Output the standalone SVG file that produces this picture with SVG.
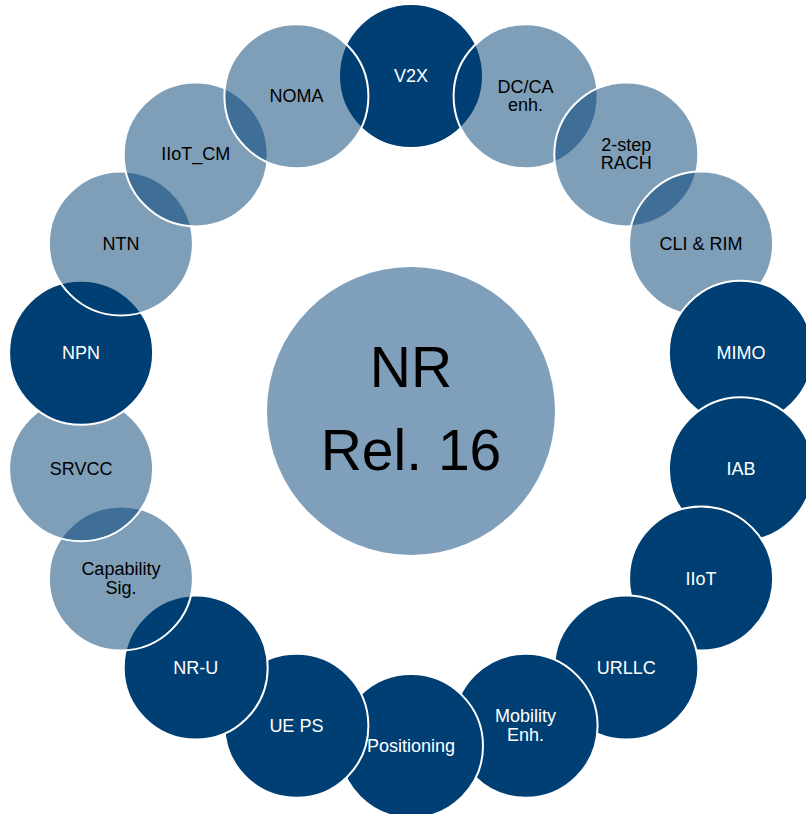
<svg xmlns="http://www.w3.org/2000/svg" width="806" height="814" viewBox="0 0 806 814">
  <style>
    .dark { fill: #003f74; stroke: #ffffff; stroke-width: 2; }
    .light { fill: #003f74; fill-opacity: 0.5; stroke: #ffffff; stroke-width: 2; }
    .hub { fill: #7f9fba; }
    text { font-family: "Liberation Sans", Arial, sans-serif; font-size: 18px; text-anchor: middle; }
    .on-dark { fill: #ffffff; }
    .on-light { fill: #000000; }
    .hub-label { font-size: 57px; fill: #000000; }
  </style>
  <rect width="806" height="814" fill="#ffffff"/>

  <!-- central hub -->
  <g id="hub">
    <circle class="hub" cx="411" cy="411" r="144"/>
    <text class="hub-label" x="411" y="387">NR</text>
    <text class="hub-label" x="411" y="470">Rel. 16</text>
  </g>

  <!-- ring of features, drawn clockwise from the top so each overlaps the previous -->
  <g id="v2x">
    <circle class="dark" cx="411" cy="76" r="72"/>
    <text class="on-dark" x="411" y="82">V2X</text>
  </g>
  <g id="dcca">
    <circle class="light" cx="525.6" cy="96.2" r="72"/>
    <text class="on-light" x="525.6" y="92.5">DC/CA</text>
    <text class="on-light" x="525.6" y="111.2">enh.</text>
  </g>
  <g id="rach">
    <circle class="light" cx="626.3" cy="154.4" r="72"/>
    <text class="on-light" x="626.3" y="150.7">2-step</text>
    <text class="on-light" x="626.3" y="169.4">RACH</text>
  </g>
  <g id="cli-rim">
    <circle class="light" cx="701.1" cy="243.5" r="72"/>
    <text class="on-light" x="701.1" y="249.5">CLI &amp; RIM</text>
  </g>
  <g id="mimo">
    <circle class="dark" cx="740.9" cy="352.8" r="72"/>
    <text class="on-dark" x="740.9" y="358.8">MIMO</text>
  </g>
  <g id="iab">
    <circle class="dark" cx="740.9" cy="469.2" r="72"/>
    <text class="on-dark" x="740.9" y="475.2">IAB</text>
  </g>
  <g id="iiot">
    <circle class="dark" cx="701.1" cy="578.5" r="72"/>
    <text class="on-dark" x="701.1" y="584.5">IIoT</text>
  </g>
  <g id="urllc">
    <circle class="dark" cx="626.3" cy="667.6" r="72"/>
    <text class="on-dark" x="626.3" y="673.6">URLLC</text>
  </g>
  <g id="mobility">
    <circle class="dark" cx="525.6" cy="725.8" r="72"/>
    <text class="on-dark" x="525.6" y="722.1">Mobility</text>
    <text class="on-dark" x="525.6" y="740.8">Enh.</text>
  </g>
  <g id="positioning">
    <circle class="dark" cx="411" cy="746" r="72"/>
  </g>
  <g id="ue-ps">
    <circle class="dark" cx="296.4" cy="725.8" r="72"/>
    <text class="on-dark" x="296.4" y="731.8">UE PS</text>
  </g>
  <g id="nr-u">
    <circle class="dark" cx="195.7" cy="667.6" r="72"/>
    <text class="on-dark" x="195.7" y="673.6">NR-U</text>
  </g>
  <g id="capability">
    <circle class="light" cx="120.9" cy="578.5" r="72"/>
    <text class="on-light" x="120.9" y="574.8">Capability</text>
    <text class="on-light" x="120.9" y="593.5">Sig.</text>
  </g>
  <g id="srvcc">
    <circle class="light" cx="81.1" cy="469.2" r="72"/>
    <text class="on-light" x="81.1" y="475.2">SRVCC</text>
  </g>
  <g id="npn">
    <circle class="dark" cx="81.1" cy="352.8" r="72"/>
    <text class="on-dark" x="81.1" y="358.8">NPN</text>
  </g>
  <g id="ntn">
    <circle class="light" cx="120.9" cy="243.5" r="72"/>
    <text class="on-light" x="120.9" y="249.5">NTN</text>
  </g>
  <g id="iiot-cm">
    <circle class="light" cx="195.7" cy="154.4" r="72"/>
    <text class="on-light" x="195.7" y="160.4">IIoT_CM</text>
  </g>
  <g id="noma">
    <circle class="light" cx="296.4" cy="96.2" r="72"/>
    <text class="on-light" x="296.4" y="102.2">NOMA</text>
  </g>

  <!-- label for the bottom node sits above its neighbour's edge -->
  <g id="positioning-label">
    <text class="on-dark" x="411" y="752">Positioning</text>
  </g>

  <!-- no connectors in this figure -->
  <g id="connectors"/>
</svg>
